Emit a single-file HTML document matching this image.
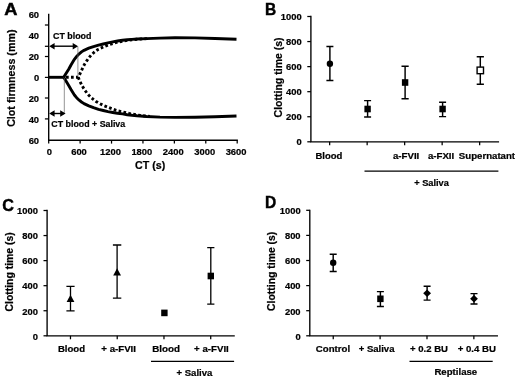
<!DOCTYPE html>
<html><head><meta charset="utf-8"><title>Figure</title>
<style>
html,body{margin:0;padding:0;background:#fff;}
body{width:520px;height:381px;overflow:hidden;}
svg{display:block;}
text{font-family:"Liberation Sans",Arial,sans-serif;font-weight:bold;fill:#000;stroke:#000;stroke-width:0.22px;}
.t{font-size:9.4px;}
.pl{font-size:16.3px;stroke-width:0.45px;}
.ax{stroke:#000;stroke-width:1.35;fill:none;stroke-linecap:square;}
.tk{stroke:#000;stroke-width:1.25;fill:none;}
.eb{stroke:#000;fill:none;}
.cv{stroke:#000;stroke-width:2.9;fill:none;stroke-linejoin:round;}
</style></head><body>
<svg width="520" height="381" viewBox="0 0 520 381">
<defs><filter id="soft" x="0" y="0" width="520" height="381" filterUnits="userSpaceOnUse"><feGaussianBlur stdDeviation="0.42"/></filter></defs>
<rect width="520" height="381" fill="#fff"/>
<g filter="url(#soft)">

<g id="panelA">
<text class="pl" x="4.3" y="14.6" textLength="13.2" lengthAdjust="spacingAndGlyphs">A</text>
<path class="ax" d="M48.7 14.4V140.2H237.2"/>
<text class="t" x="39.1" y="18.4" text-anchor="end">60</text>
<text class="t" x="39.1" y="39.25" text-anchor="end">40</text>
<text class="t" x="39.1" y="60.1" text-anchor="end">20</text>
<text class="t" x="39.1" y="80.95" text-anchor="end">0</text>
<text class="t" x="39.1" y="101.8" text-anchor="end">20</text>
<text class="t" x="39.1" y="122.65" text-anchor="end">40</text>
<text class="t" x="39.1" y="143.5" text-anchor="end">60</text>
<path class="tk" d="M44.9 25H48.7"/>
<path class="tk" d="M44.9 46.3H48.7"/>
<path class="tk" d="M44.9 56.5H48.7"/>
<path class="tk" d="M44.9 77.4H48.7"/>
<path class="tk" d="M44.9 98H48.7"/>
<path class="tk" d="M44.9 118.9H48.7"/>
<path class="tk" d="M48.7 140.2V143.6"/>
<text class="t" x="49.3" y="154.9" text-anchor="middle">0</text>
<path class="tk" d="M80.12 140.2V143.6"/>
<text class="t" x="79.02" y="154.9" text-anchor="middle">600</text>
<path class="tk" d="M111.53 140.2V143.6"/>
<text class="t" x="110.43" y="154.9" text-anchor="middle">1200</text>
<path class="tk" d="M142.95 140.2V143.6"/>
<text class="t" x="141.85" y="154.9" text-anchor="middle">1800</text>
<path class="tk" d="M174.37 140.2V143.6"/>
<text class="t" x="173.27" y="154.9" text-anchor="middle">2400</text>
<path class="tk" d="M205.78 140.2V143.6"/>
<text class="t" x="204.68" y="154.9" text-anchor="middle">3000</text>
<path class="tk" d="M237.2 140.2V143.6"/>
<text class="t" x="236.1" y="154.9" text-anchor="middle">3600</text>
<text class="t" style="font-size:10.8px" x="135.1" y="168.7" textLength="30.1" lengthAdjust="spacingAndGlyphs">CT (s)</text>
<text transform="translate(14.5 78.2) rotate(-90)" text-anchor="middle" textLength="97.3" lengthAdjust="spacingAndGlyphs" style="font-size:10.8px">Clot firmness (mm)</text>
<path class="cv" d="M48.7 77.3H63.7"/>
<path class="cv" d="M63.7 77.3 L66 73.6 L68.7 69.3 L71 65 L74.4 59.3 L76.6 56.5 L79.2 53.8 L81.5 51.9 L84 50.3 L88.8 48.2 L93.5 46.6 L98.5 45.2 L103.3 44 L108 42.9 L112.8 41.9 L117.5 41 L122.5 40.3 L127.3 39.8 L132 39.4 L137 39 L146.5 38.6 L160 38.1 L175 37.8 L195 37.9 L215 38.5 L236.5 39.3"/>
<path class="cv" d="M63.7 77.3 L66 81 L68.7 85.5 L71 89.5 L74.4 95 L76.6 97.7 L79.2 100.2 L81.5 102 L84 103.6 L88.8 105.9 L93.5 107.7 L98.5 109.3 L103.3 110.5 L108 111.6 L112.8 112.5 L117.5 113.3 L122.5 113.9 L127.3 114.7 L132 115.3 L137 115.8 L146.5 116.5 L160 117.1 L175 117.4 L195 117.3 L215 116.8 L236.5 116"/>
<path class="cv" stroke-dasharray="2.7 2.3" d="M66 77.3 L78.2 77.3 L79.6 74.5 L81.5 70.5 L83 67.2 L84.5 64.3 L86.9 60.6 L88.8 57.9 L91.2 55 L93.7 52.7 L96 50.8 L98.5 49.2 L103.3 46.9 L108.1 45 L112.9 43.5 L117.7 42.1 L123.5 41 L129.2 40.1 L135 39.5 L140.8 39 L148 38.6"/>
<path class="cv" stroke-dasharray="2.7 2.3" d="M78.2 77.3 L79.5 80.5 L81.5 84.6 L83.2 87.6 L85 90.4 L86.9 93 L88.8 95.2 L91.2 97.6 L93.7 99.6 L96 101.4 L98.5 102.9 L103.3 105.4 L108.1 107.3 L112.9 109.2 L117.7 110.8 L123.5 112.1 L129.2 113.5 L136.9 115 L145 116 L150 116.4"/>
<path d="M77.9 46.5V77" stroke="#666" stroke-width="0.7" fill="none"/>
<path d="M64.3 78V113.5" stroke="#666" stroke-width="0.7" fill="none"/>
<path d="M51.2 46.2H76.1" stroke="#000" stroke-width="1.4" fill="none"/><path d="M49.2 46.2l5.4 -3.3v6.6z M78.1 46.2l-5.4 -3.3v6.6z" fill="#000"/>
<path d="M51.2 113.5H63.6" stroke="#000" stroke-width="1.4" fill="none"/><path d="M49.2 113.5l5.4 -3.3v6.6z M65.6 113.5l-5.4 -3.3v6.6z" fill="#000"/>
<text class="t" x="53" y="38.8" textLength="38.4" lengthAdjust="spacingAndGlyphs">CT blood</text>
<text class="t" x="51.3" y="126.5" textLength="73.9" lengthAdjust="spacingAndGlyphs">CT blood + Saliva</text>
</g>
<g id="panelB">
<text class="pl" x="264.9" y="14.7" textLength="11.2" lengthAdjust="spacingAndGlyphs">B</text>
<path class="ax" d="M310.9 16.5V141.8H498.4"/>
<path class="tk" d="M307.3 16.5H310.9"/>
<text class="t" x="301.7" y="20" text-anchor="end">1000</text>
<path class="tk" d="M307.3 41.56H310.9"/>
<text class="t" x="301.7" y="45.06" text-anchor="end">800</text>
<path class="tk" d="M307.3 66.62H310.9"/>
<text class="t" x="301.7" y="70.12" text-anchor="end">600</text>
<path class="tk" d="M307.3 91.68H310.9"/>
<text class="t" x="301.7" y="95.18" text-anchor="end">400</text>
<path class="tk" d="M307.3 116.74H310.9"/>
<text class="t" x="301.7" y="120.24" text-anchor="end">200</text>
<path class="tk" d="M307.3 141.8H310.9"/>
<text class="t" x="301.7" y="145.3" text-anchor="end">0</text>
<path class="tk" d="M329.65 141.8V145.3"/>
<path class="tk" d="M367.15 141.8V145.3"/>
<path class="tk" d="M404.65 141.8V145.3"/>
<path class="tk" d="M442.15 141.8V145.3"/>
<path class="tk" d="M479.65 141.8V145.3"/>
<path class="eb" stroke-width="1.45" d="M329.9 46.5V80.4M326.4 46.5H333.4M326.4 80.4H333.4"/>
<circle cx="329.9" cy="63.8" r="3.2" fill="#000"/>
<path class="eb" stroke-width="1.45" d="M367.6 100.6V117M364.1 100.6H371.1M364.1 117H371.1"/>
<rect x="364.4" y="105.7" width="6.4" height="6.6" fill="#000"/>
<path class="eb" stroke-width="1.45" d="M405.1 66.2V98.8M401.5 66.2H408.7M401.5 98.8H408.7"/>
<rect x="401.9" y="79.2" width="6.4" height="6.6" fill="#000"/>
<path class="eb" stroke-width="1.45" d="M442.6 102.3V116.6M439.1 102.3H446.1M439.1 116.6H446.1"/>
<rect x="439.4" y="105.7" width="6.4" height="6.6" fill="#000"/>
<path class="eb" stroke-width="1.45" d="M480.3 56.7V84.2M476.7 56.7H483.9M476.7 84.2H483.9"/>
<rect x="477.1" y="67.1" width="6.4" height="6.6" fill="#fff" stroke="#000" stroke-width="1.4"/>
<text transform="translate(281.8 77.4) rotate(-90)" text-anchor="middle" textLength="80" lengthAdjust="spacingAndGlyphs" style="font-size:10.6px">Clotting time (s)</text>
<text class="t" x="315.4" y="158.8" textLength="26.9" lengthAdjust="spacingAndGlyphs">Blood</text>
<text class="t" x="393" y="158.8" textLength="26.3" lengthAdjust="spacingAndGlyphs">a-FVII</text>
<text class="t" x="427.9" y="158.8" textLength="26.3" lengthAdjust="spacingAndGlyphs">a-FXII</text>
<text class="t" x="458.8" y="158.8" textLength="56.3" lengthAdjust="spacingAndGlyphs">Supernatant</text>
<path d="M364.5 171.2H498.4" stroke="#000" stroke-width="1.25" fill="none"/>
<text class="t" x="414.2" y="185.7" textLength="34.7" lengthAdjust="spacingAndGlyphs">+ Saliva</text>
</g>
<g id="panelC">
<text class="pl" x="2.2" y="211.2" textLength="11.7" lengthAdjust="spacingAndGlyphs">C</text>
<path class="ax" d="M47.1 210.5V335.8H234.1"/>
<path class="tk" d="M43.5 210.5H47.1"/>
<text class="t" x="37.9" y="214.3" text-anchor="end">1000</text>
<path class="tk" d="M43.5 235.56H47.1"/>
<text class="t" x="37.9" y="239.36" text-anchor="end">800</text>
<path class="tk" d="M43.5 260.62H47.1"/>
<text class="t" x="37.9" y="264.42" text-anchor="end">600</text>
<path class="tk" d="M43.5 285.68H47.1"/>
<text class="t" x="37.9" y="289.48" text-anchor="end">400</text>
<path class="tk" d="M43.5 310.74H47.1"/>
<text class="t" x="37.9" y="314.54" text-anchor="end">200</text>
<path class="tk" d="M43.5 335.8H47.1"/>
<text class="t" x="37.9" y="339.6" text-anchor="end">0</text>
<path class="tk" d="M70.47 335.8V339.3"/>
<path class="tk" d="M117.22 335.8V339.3"/>
<path class="tk" d="M163.97 335.8V339.3"/>
<path class="tk" d="M210.72 335.8V339.3"/>
<path class="eb" stroke-width="1.3" d="M70.5 286.3V310.9M66.4 286.3H74.6M66.4 310.9H74.6"/>
<path d="M70.5 294.7L74.4 301.9H66.6z" fill="#000"/>
<path class="eb" stroke-width="1.3" d="M117.1 245V298.2M112.9 245H121.3M112.9 298.2H121.3"/>
<path d="M117.1 268.3L121 275.5H113.2z" fill="#000"/>
<rect x="161.2" y="309.6" width="6.4" height="6.6" fill="#000"/>
<path class="eb" stroke-width="1.3" d="M210.8 247.7V304.2M207.2 247.7H214.4M207.2 304.2H214.4"/>
<rect x="207.6" y="272.7" width="6.4" height="6.6" fill="#000"/>
<text transform="translate(13.2 271.9) rotate(-90)" text-anchor="middle" textLength="79.2" lengthAdjust="spacingAndGlyphs" style="font-size:10.6px">Clotting time (s)</text>
<text class="t" x="57.9" y="351.6" textLength="27.1" lengthAdjust="spacingAndGlyphs">Blood</text>
<text class="t" x="101.3" y="351.6" textLength="34.7" lengthAdjust="spacingAndGlyphs">+ a-FVII</text>
<text class="t" x="152.2" y="351.6" textLength="27.8" lengthAdjust="spacingAndGlyphs">Blood</text>
<text class="t" x="194.1" y="351.6" textLength="34.7" lengthAdjust="spacingAndGlyphs">+ a-FVII</text>
<path d="M151 361.4H234.1" stroke="#000" stroke-width="1.25" fill="none"/>
<text class="t" x="176.5" y="376" textLength="35.8" lengthAdjust="spacingAndGlyphs">+ Saliva</text>
</g>
<g id="panelD">
<text class="pl" x="264.9" y="207.8" textLength="11.2" lengthAdjust="spacingAndGlyphs">D</text>
<path class="ax" d="M309.8 210.3V335.8H497.3"/>
<path class="tk" d="M306.2 210.3H309.8"/>
<text class="t" x="300.6" y="214.1" text-anchor="end">1000</text>
<path class="tk" d="M306.2 235.4H309.8"/>
<text class="t" x="300.6" y="239.2" text-anchor="end">800</text>
<path class="tk" d="M306.2 260.5H309.8"/>
<text class="t" x="300.6" y="264.3" text-anchor="end">600</text>
<path class="tk" d="M306.2 285.6H309.8"/>
<text class="t" x="300.6" y="289.4" text-anchor="end">400</text>
<path class="tk" d="M306.2 310.7H309.8"/>
<text class="t" x="300.6" y="314.5" text-anchor="end">200</text>
<path class="tk" d="M306.2 335.8H309.8"/>
<text class="t" x="300.6" y="339.6" text-anchor="end">0</text>
<path class="tk" d="M333.24 335.8V339.3"/>
<path class="tk" d="M380.11 335.8V339.3"/>
<path class="tk" d="M426.99 335.8V339.3"/>
<path class="tk" d="M473.86 335.8V339.3"/>
<path class="eb" stroke-width="1.45" d="M333.2 254.2V271.5M329.7 254.2H336.7M329.7 271.5H336.7"/>
<circle cx="333.2" cy="262.7" r="3.2" fill="#000"/>
<path class="eb" stroke-width="1.45" d="M380.4 291.6V306.4M376.9 291.6H383.9M376.9 306.4H383.9"/>
<rect x="377.2" y="295.5" width="6.4" height="6.6" fill="#000"/>
<path class="eb" stroke-width="1.45" d="M427.1 286.3V300.1M423.6 286.3H430.6M423.6 300.1H430.6"/>
<path d="M427.1 289.5L431 293.2L427.1 296.9L423.2 293.2z" fill="#000"/>
<path class="eb" stroke-width="1.45" d="M474 293.6V304M470.5 293.6H477.5M470.5 304H477.5"/>
<path d="M474 295L477.9 298.7L474 302.4L470.1 298.7z" fill="#000"/>
<text transform="translate(274.8 271.3) rotate(-90)" text-anchor="middle" textLength="79.2" lengthAdjust="spacingAndGlyphs" style="font-size:10.6px">Clotting time (s)</text>
<text class="t" x="315.8" y="351.6" textLength="34.3" lengthAdjust="spacingAndGlyphs">Control</text>
<text class="t" x="358.7" y="351.6" textLength="35.8" lengthAdjust="spacingAndGlyphs">+ Saliva</text>
<text class="t" x="410.1" y="351.6" textLength="37.9" lengthAdjust="spacingAndGlyphs">+ 0.2 BU</text>
<text class="t" x="457.7" y="351.6" textLength="38.3" lengthAdjust="spacingAndGlyphs">+ 0.4 BU</text>
<path d="M409.5 361.4H492.7" stroke="#000" stroke-width="1.25" fill="none"/>
<text class="t" x="434.4" y="375.4" textLength="42.8" lengthAdjust="spacingAndGlyphs">Reptilase</text>
</g>
</g></svg></body></html>
